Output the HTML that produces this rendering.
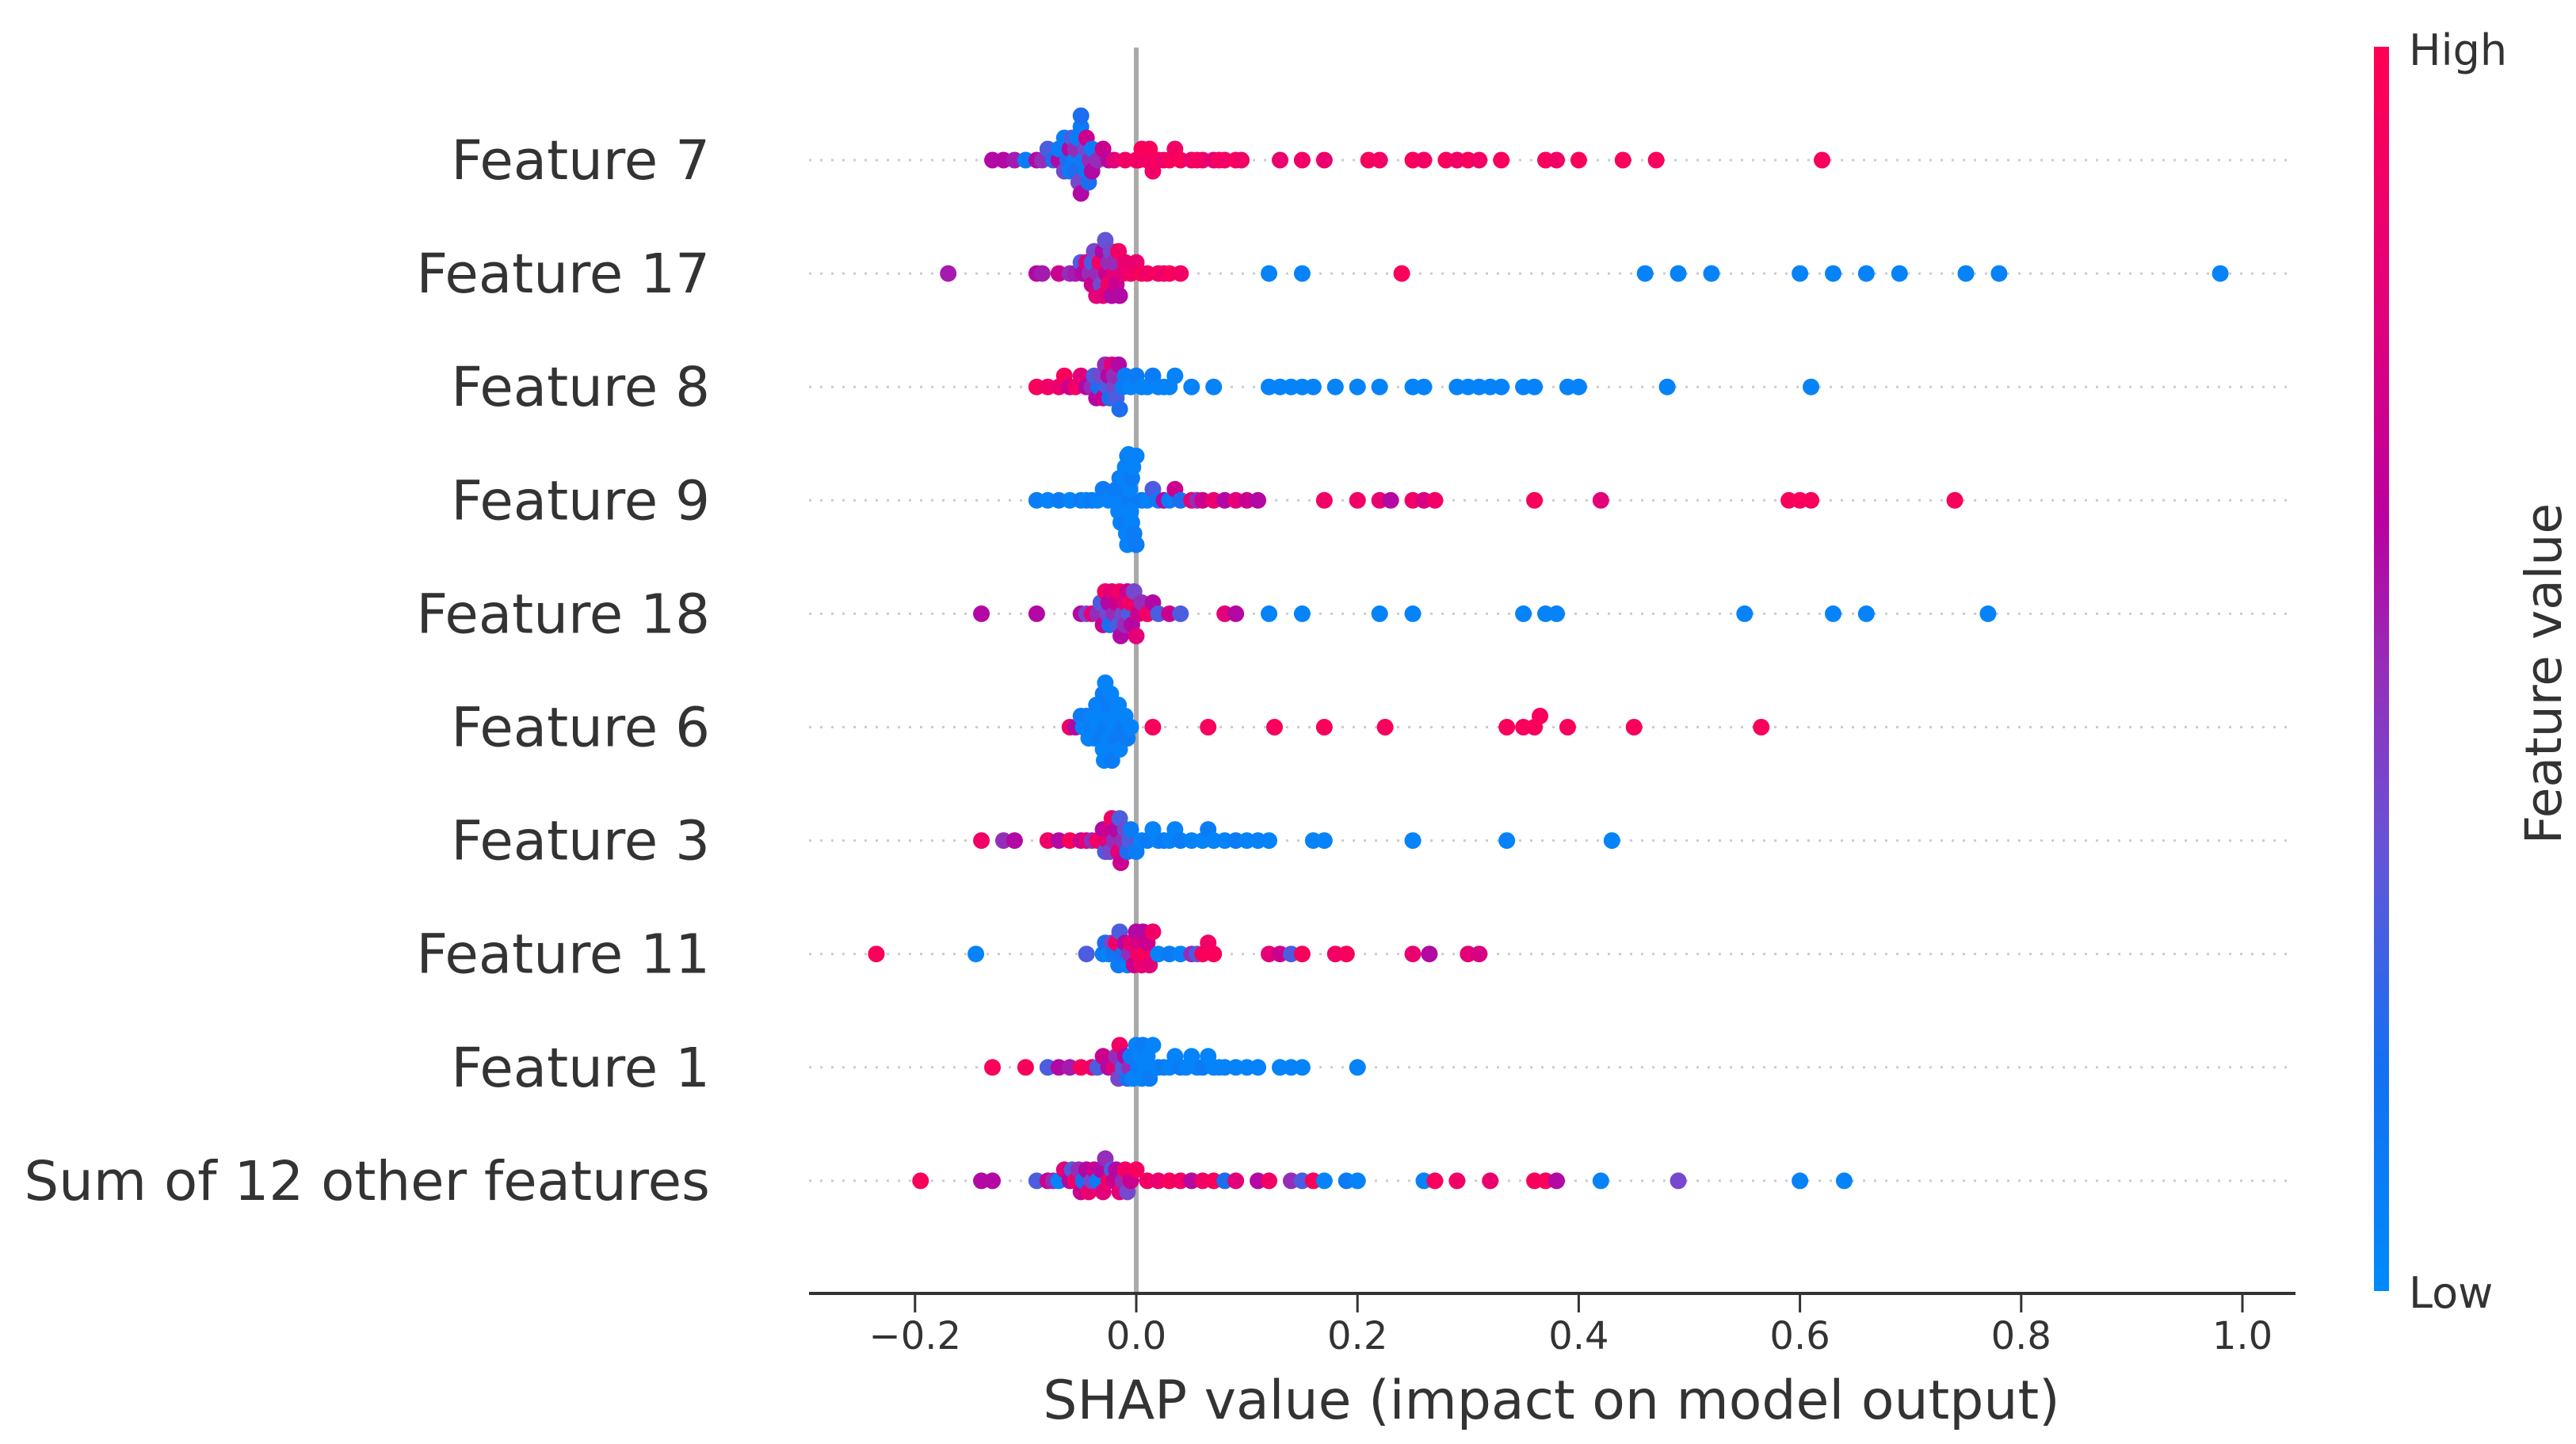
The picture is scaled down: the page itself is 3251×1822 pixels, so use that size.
<!DOCTYPE html>
<html><head><meta charset="utf-8">
<style>
html,body{margin:0;padding:0;background:#fff;}
svg{display:block;}
text{font-family:"DejaVu Sans","Liberation Sans",sans-serif;}
</style></head>
<body>
<svg id="chart" width="3251" height="1822" viewBox="0 0 3251 1822" xmlns="http://www.w3.org/2000/svg">
<defs>
<linearGradient id="cbar" x1="0" y1="1" x2="0" y2="0">
<stop offset="0" stop-color="rgb(0,138,250)"/>
<stop offset="0.18" stop-color="rgb(20,112,242)"/>
<stop offset="0.35" stop-color="rgb(100,85,215)"/>
<stop offset="0.5" stop-color="rgb(150,45,185)"/>
<stop offset="0.62" stop-color="rgb(185,0,160)"/>
<stop offset="0.8" stop-color="rgb(228,0,120)"/>
<stop offset="1" stop-color="rgb(255,0,82)"/>
</linearGradient>
</defs>
<g id="grid"></g>
<line x1="1434" y1="60" x2="1434" y2="1632" stroke="#aaaaaa" stroke-width="6"/>
<g id="dots"></g>
<g id="labels"></g>
<line x1="1021" y1="1632" x2="2897" y2="1632" stroke="#333" stroke-width="4"/>
<g id="xticks"></g>
<text x="1958" y="1790" font-size="68" fill="#333" text-anchor="middle">SHAP value (impact on model output)</text>
<rect x="2996" y="59" width="19" height="1570" fill="url(#cbar)"/>
<text x="3040" y="82" font-size="54" fill="#333">High</text>
<text x="3040" y="1650" font-size="54" fill="#333">Low</text>
<text x="0" y="0" font-size="63" fill="#333" text-anchor="middle" transform="translate(3232,850) rotate(-90)">Feature value</text>
</svg>
<script>
const featureNames = ["Feature 7","Feature 17","Feature 8","Feature 9","Feature 18","Feature 6","Feature 3","Feature 11","Feature 1","Sum of 12 other features"];
const xTicks = [-0.2,0,0.2,0.4,0.6,0.8,1.0];
const xTickLabels = ["\u22120.2","0.0","0.2","0.4","0.6","0.8","1.0"];

const f7x = [-0.13,-0.12,-0.11,-0.1,-0.09,-0.085,-0.08,-0.075,-0.07,-0.07,-0.065,-0.065,-0.062,-0.06,-0.06,-0.058,-0.056,-0.055,-0.055,-0.053,-0.052,-0.05,-0.05,-0.05,-0.048,-0.046,-0.045,-0.045,-0.043,-0.042,-0.04,-0.04,-0.035,-0.03,-0.025,-0.02,-0.01,0.0,0.002,0.005,0.01,0.012,0.015,0.02,0.025,0.03,0.035,0.04,0.05,0.055,0.06,0.07,0.075,0.08,0.09,0.095,0.13,0.15,0.17,0.21,0.22,0.25,0.26,0.28,0.29,0.3,0.31,0.33,0.37,0.38,0.4,0.44,0.47,0.62];
const f7c = [0.6,0.6,0.55,0.1,0.6,0.5,0.3,0.2,0.6,0.1,0.4,0.1,0.2,0.6,0.1,0.3,0.1,0.5,0.2,0.1,0.4,0.1,0.6,0.2,0.1,0.4,0.1,0.7,0.2,0.5,0.1,0.6,0.5,0.7,0.6,0.8,0.9,0.95,0.9,0.95,0.9,0.95,0.9,0.95,0.85,0.95,0.9,0.95,0.85,0.95,0.9,0.8,0.95,0.9,0.95,0.9,0.85,0.9,0.85,0.95,0.9,0.95,0.9,0.95,0.9,0.95,0.9,0.95,0.95,0.9,0.95,0.95,0.95,0.95];

const f17x = [-0.17,-0.09,-0.085,-0.07,-0.06,-0.055,-0.05,-0.048,-0.045,-0.042,-0.04,-0.04,-0.038,-0.036,-0.035,-0.033,-0.032,-0.03,-0.03,-0.028,-0.027,-0.025,-0.025,-0.023,-0.022,-0.02,-0.02,-0.018,-0.016,-0.015,-0.012,-0.01,-0.005,0.0,0.005,0.01,0.02,0.025,0.03,0.04,0.12,0.15,0.24,0.46,0.49,0.52,0.6,0.63,0.66,0.69,0.75,0.78,0.98];
const f17c = [0.55,0.6,0.55,0.7,0.5,0.55,0.3,0.6,0.8,0.5,0.3,0.7,0.4,0.8,0.5,0.9,0.4,0.6,0.8,0.35,0.7,0.5,0.9,0.4,0.6,0.8,0.5,0.7,0.9,0.6,0.8,0.85,0.9,0.85,0.95,0.9,0.95,0.85,0.95,0.9,0.05,0.05,0.95,0.05,0.05,0.05,0.05,0.05,0.05,0.05,0.05,0.05,0.05];

const f8x = [-0.09,-0.08,-0.07,-0.065,-0.06,-0.055,-0.05,-0.045,-0.04,-0.038,-0.036,-0.034,-0.032,-0.03,-0.028,-0.026,-0.025,-0.024,-0.022,-0.02,-0.02,-0.018,-0.016,-0.015,-0.012,-0.01,-0.005,0.0,0.005,0.01,0.015,0.02,0.025,0.03,0.035,0.05,0.07,0.12,0.13,0.14,0.15,0.16,0.18,0.2,0.22,0.25,0.26,0.29,0.3,0.31,0.32,0.33,0.35,0.36,0.39,0.4,0.48,0.61];
const f8c = [0.95,0.9,0.85,0.95,0.7,0.9,0.8,0.6,0.5,0.3,0.6,0.2,0.4,0.7,0.5,0.3,0.6,0.2,0.8,0.4,0.5,0.3,0.6,0.2,0.1,0.1,0.05,0.1,0.05,0.05,0.1,0.05,0.05,0.05,0.05,0.05,0.05,0.05,0.05,0.05,0.05,0.05,0.05,0.05,0.05,0.05,0.05,0.05,0.05,0.05,0.05,0.05,0.05,0.05,0.05,0.05,0.05,0.05];

const f9x = [-0.09,-0.08,-0.07,-0.06,-0.05,-0.045,-0.04,-0.035,-0.03,-0.025,-0.02,-0.018,-0.016,-0.015,-0.014,-0.013,-0.012,-0.012,-0.011,-0.01,-0.01,-0.009,-0.008,-0.008,-0.007,-0.006,-0.006,-0.005,-0.004,-0.004,-0.003,-0.002,0.0,0.0,0.005,0.01,0.015,0.02,0.025,0.03,0.035,0.04,0.05,0.055,0.06,0.07,0.08,0.09,0.1,0.11,0.17,0.2,0.22,0.23,0.25,0.26,0.27,0.36,0.42,0.59,0.6,0.61,0.74];
const f9c = [0.1,0.05,0.1,0.05,0.1,0.05,0.1,0.05,0.1,0.05,0.05,0.1,0.05,0.1,0.05,0.05,0.1,0.05,0.05,0.1,0.05,0.05,0.1,0.05,0.05,0.1,0.05,0.05,0.1,0.05,0.05,0.1,0.05,0.1,0.1,0.05,0.3,0.1,0.6,0.1,0.7,0.2,0.8,0.5,0.7,0.85,0.6,0.8,0.7,0.6,0.9,0.9,0.85,0.6,0.9,0.75,0.9,0.95,0.8,0.95,0.95,0.95,0.95];

const f18x = [-0.14,-0.09,-0.05,-0.045,-0.04,-0.035,-0.032,-0.03,-0.028,-0.026,-0.025,-0.024,-0.022,-0.02,-0.018,-0.016,-0.015,-0.014,-0.012,-0.01,-0.01,-0.008,-0.006,-0.005,-0.004,-0.002,0.0,0.002,0.005,0.01,0.015,0.02,0.03,0.04,0.08,0.09,0.12,0.15,0.22,0.25,0.35,0.37,0.38,0.55,0.63,0.66,0.77];
const f18c = [0.6,0.6,0.6,0.4,0.8,0.5,0.3,0.7,0.9,0.4,0.6,0.2,0.8,0.5,0.7,0.3,0.9,0.6,0.4,0.8,0.5,0.7,0.3,0.9,0.6,0.4,0.8,0.7,0.5,0.9,0.6,0.3,0.7,0.3,0.8,0.6,0.05,0.05,0.05,0.05,0.05,0.05,0.05,0.05,0.05,0.05,0.05];

const f6x = [-0.06,-0.055,-0.05,-0.048,-0.045,-0.043,-0.04,-0.04,-0.038,-0.036,-0.035,-0.034,-0.033,-0.032,-0.03,-0.03,-0.029,-0.028,-0.027,-0.026,-0.025,-0.025,-0.024,-0.023,-0.022,-0.02,-0.02,-0.018,-0.016,-0.015,-0.012,-0.01,-0.008,-0.005,0.015,0.065,0.125,0.17,0.225,0.335,0.35,0.36,0.365,0.39,0.45,0.565];
const f6c = [0.9,0.6,0.1,0.05,0.1,0.05,0.1,0.05,0.05,0.1,0.05,0.05,0.1,0.05,0.05,0.1,0.05,0.05,0.1,0.05,0.05,0.1,0.05,0.05,0.1,0.05,0.05,0.1,0.05,0.05,0.1,0.05,0.1,0.05,0.95,0.95,0.95,0.95,0.95,0.95,0.95,0.95,0.95,0.95,0.95,0.95];

const f3x = [-0.14,-0.12,-0.11,-0.08,-0.07,-0.06,-0.05,-0.045,-0.04,-0.035,-0.03,-0.028,-0.026,-0.025,-0.024,-0.022,-0.02,-0.018,-0.016,-0.015,-0.014,-0.012,-0.01,-0.008,-0.006,-0.005,0.0,0.005,0.01,0.015,0.02,0.025,0.03,0.035,0.04,0.05,0.06,0.065,0.07,0.08,0.09,0.1,0.11,0.12,0.16,0.17,0.25,0.335,0.43];
const f3c = [0.9,0.5,0.6,0.9,0.6,0.95,0.7,0.8,0.5,0.9,0.6,0.3,0.8,0.7,0.4,0.9,0.5,0.6,0.8,0.3,0.7,0.5,0.4,0.2,0.3,0.1,0.1,0.05,0.1,0.05,0.05,0.1,0.05,0.05,0.1,0.05,0.05,0.1,0.05,0.05,0.1,0.05,0.05,0.05,0.05,0.05,0.05,0.05,0.05];

const f11x = [-0.235,-0.145,-0.045,-0.03,-0.028,-0.025,-0.022,-0.02,-0.018,-0.016,-0.015,-0.012,-0.01,-0.008,-0.006,-0.005,-0.002,0.0,0.002,0.004,0.005,0.006,0.008,0.01,0.012,0.015,0.02,0.03,0.04,0.05,0.055,0.06,0.065,0.07,0.12,0.13,0.14,0.15,0.18,0.19,0.25,0.265,0.3,0.31];
const f11c = [0.95,0.05,0.3,0.1,0.2,0.05,0.4,0.15,0.9,0.1,0.3,0.2,0.6,0.05,0.5,0.8,0.7,0.6,0.9,0.75,0.85,0.6,0.95,0.7,0.8,0.9,0.05,0.1,0.05,0.5,0.3,0.95,0.9,0.95,0.8,0.7,0.3,0.95,0.9,0.95,0.85,0.6,0.8,0.75];

const f1x = [-0.13,-0.1,-0.08,-0.07,-0.06,-0.05,-0.04,-0.035,-0.03,-0.025,-0.02,-0.018,-0.016,-0.015,-0.012,-0.01,-0.008,-0.006,-0.005,-0.003,0.0,0.002,0.004,0.005,0.006,0.008,0.01,0.012,0.015,0.02,0.025,0.03,0.035,0.04,0.045,0.05,0.055,0.06,0.065,0.07,0.075,0.08,0.09,0.1,0.11,0.13,0.14,0.15,0.2];
const f1c = [0.95,0.95,0.3,0.6,0.55,0.95,0.9,0.3,0.7,0.6,0.8,0.5,0.4,0.9,0.3,0.6,0.2,0.5,0.1,0.05,0.05,0.1,0.05,0.05,0.1,0.05,0.05,0.1,0.05,0.05,0.1,0.05,0.05,0.1,0.05,0.05,0.05,0.1,0.05,0.05,0.05,0.05,0.05,0.05,0.05,0.05,0.05,0.05,0.05];

const fsx = [-0.195,-0.14,-0.13,-0.09,-0.08,-0.075,-0.07,-0.065,-0.06,-0.058,-0.055,-0.052,-0.05,-0.048,-0.045,-0.043,-0.04,-0.038,-0.035,-0.032,-0.03,-0.028,-0.025,-0.022,-0.02,-0.018,-0.015,-0.012,-0.01,-0.008,-0.005,0.0,0.01,0.02,0.03,0.04,0.05,0.06,0.07,0.08,0.09,0.11,0.12,0.14,0.15,0.16,0.17,0.19,0.2,0.26,0.27,0.29,0.32,0.36,0.37,0.38,0.42,0.49,0.6,0.64];
const fsc = [0.95,0.6,0.6,0.3,0.7,0.5,0.05,0.8,0.6,0.3,0.9,0.5,0.7,0.2,0.6,0.85,0.4,0.7,0.1,0.6,0.8,0.5,0.9,0.3,0.7,0.6,0.8,0.5,0.9,0.4,0.7,0.95,0.9,0.85,0.95,0.9,0.6,0.9,0.95,0.2,0.8,0.6,0.9,0.5,0.3,0.95,0.05,0.1,0.05,0.05,0.95,0.9,0.85,0.95,0.95,0.6,0.05,0.4,0.05,0.05];

const rowsX = [f7x,f17x,f8x,f9x,f18x,f6x,f3x,f11x,f1x,fsx];
const rowsC = [f7c,f17c,f8c,f9c,f18c,f6c,f3c,f11c,f1c,fsc];

const NS = "http://www.w3.org/2000/svg";
const X0 = 1434, XU = 1396;
function xScale(v){ return X0 + v*XU; }
const ROW_TOP = 202, ROW_STEP = 143.1;
function yScale(i){ return ROW_TOP + i*ROW_STEP; }
const stops = [[0,[0,138,250]],[0.18,[20,112,242]],[0.35,[100,85,215]],[0.5,[150,45,185]],[0.62,[185,0,160]],[0.8,[228,0,120]],[1,[255,0,82]]];
function colorScale(t){
  for(let k=1;k<stops.length;k++){
    if(t<=stops[k][0]){
      const a=stops[k-1],b=stops[k],f=(t-a[0])/(b[0]-a[0]);
      return "rgb("+a[1].map((c,j)=>Math.round(c+(b[1][j]-c)*f)).join(",")+")";
    }
  }
  return "rgb(255,0,82)";
}
function mk(tag, attrs, parent){
  const el=document.createElementNS(NS,tag);
  for(const k in attrs) el.setAttribute(k,attrs[k]);
  parent.appendChild(el);
  return el;
}
const grid=document.getElementById("grid");
const dots=document.getElementById("dots");
const labels=document.getElementById("labels");
const xticks=document.getElementById("xticks");

featureNames.forEach((name,i)=>{
  const y=yScale(i);
  const g=mk("line",{x1:1021,x2:2897,y1:y,y2:y,stroke:"#cccccc","stroke-width":3,"stroke-dasharray":"3,11"},grid);
  
  
  const t=mk("text",{x:896,y:y+24,"font-size":69,fill:"#333","text-anchor":"end"},labels);
  t.textContent=name;
  
  
  const xs=rowsX[i], cs=rowsC[i];
  const idx=xs.map((v,k)=>k).sort((a,b)=>xs[a]-xs[b]);
  const binCount={};
  idx.forEach(k=>{
    const px=xScale(xs[k]);
    const b=Math.round(px/10);
    const n=binCount[b]||0; binCount[b]=n+1;
    let off=Math.ceil(n/2)*14*(n%2===0?1:-1);
    off=Math.max(-58,Math.min(58,off));
    const c=mk("circle",{cx:px,cy:y+off,r:10.5,fill:colorScale(cs[k])},dots);
    
    
  });
});
xTicks.forEach((v,k)=>{
  const x=xScale(v);
  const l=mk("line",{x1:x,x2:x,y1:1632,y2:1656,stroke:"#333","stroke-width":3},xticks);
  
  
  const t=mk("text",{x:x,y:1702,"font-size":48,fill:"#333","text-anchor":"middle"},xticks);
  t.textContent=xTickLabels[k];
  
  
});
</script>
</body></html>
